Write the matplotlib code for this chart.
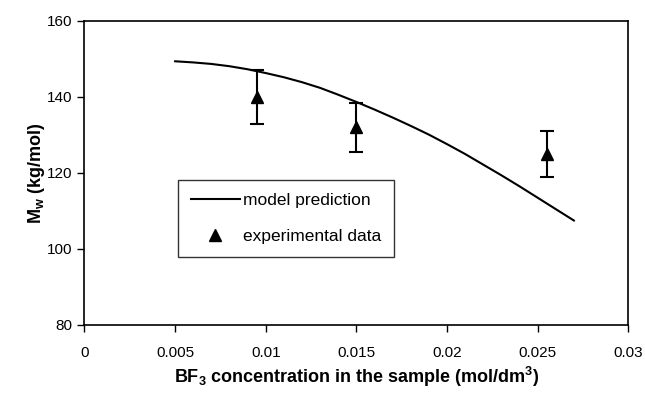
import numpy as np
import matplotlib.pyplot as plt
from matplotlib.lines import Line2D

plt.rcParams['font.family'] = ['Liberation Sans', 'DejaVu Sans']
plt.rcParams['mathtext.fontset'] = 'custom'
plt.rcParams['mathtext.rm'] = 'Liberation Sans'
plt.rcParams['mathtext.bf'] = 'Liberation Sans:bold'

# model curve
model_x = [0.005, 0.006, 0.007, 0.008, 0.009, 0.010, 0.011, 0.012, 0.013, 0.014,
           0.015, 0.016, 0.017, 0.018, 0.019, 0.020, 0.021, 0.022, 0.023, 0.024,
           0.025, 0.026, 0.027]
model_y = [149.4, 149.1, 148.7, 148.1, 147.3, 146.3, 145.2, 143.9, 142.4, 140.6,
           138.7, 136.7, 134.6, 132.4, 130.1, 127.6, 125.0, 122.2, 119.4, 116.5,
           113.5, 110.5, 107.5]

# experimental points with error
exp_x = [0.0095, 0.015, 0.0255]
exp_y = [140.0, 132.0, 125.0]
exp_err = [7.0, 6.5, 6.0]

xticks = [0, 0.005, 0.01, 0.015, 0.02, 0.025, 0.03]
xticklabels = ["0", "0.005", "0.01", "0.015", "0.02", "0.025", "0.03"]
yticks = [80, 100, 120, 140, 160]

fig, ax = plt.subplots(figsize=(6.45, 4.0), dpi=100)
fig.subplots_adjust(left=0.131, right=0.974, top=0.9475, bottom=0.1875)

ax.plot(model_x, model_y, color='black', lw=1.5, label='model prediction')
ax.errorbar(exp_x, exp_y, yerr=exp_err, fmt='^', color='black', ms=8,
            elinewidth=1.5, capsize=5, capthick=1.5, label='experimental data')

ax.set_xlim(0, 0.03)
ax.set_ylim(80, 160)
ax.set_xticks(xticks)
ax.set_xticklabels(xticklabels)
ax.set_yticks(yticks)
ax.tick_params(axis='both', direction='out', length=5, width=1, labelsize=11, colors='black')
ax.tick_params(axis='x', pad=10)
for s in ax.spines.values():
    s.set_linewidth(1.2)
    s.set_color('black')

ax.set_xlabel(r'BF$_\mathbf{3}$ concentration in the sample (mol/dm$^\mathbf{3}$)', fontsize=13,
              fontweight='bold', labelpad=4)
ax.set_ylabel(r'M$_\mathbf{w}$ (kg/mol)', fontsize=13, fontweight='bold', labelpad=0)

# legend: line handle then marker-only handle
h, l = ax.get_legend_handles_labels()
h2 = [Line2D([], [], color='black', lw=1.5),
      Line2D([], [], color='black', marker='^', ls='none', ms=8)]
leg = ax.legend(h2, l, loc='lower left', bbox_to_anchor=(0.172, 0.224),
                fancybox=False, edgecolor='black', fontsize=12.5,
                handlelength=2.8, borderpad=0.75, labelspacing=1.2,
                handletextpad=0.2, borderaxespad=0)
leg.get_frame().set_linewidth(1.0)

plt.savefig("out.png", dpi=100)
